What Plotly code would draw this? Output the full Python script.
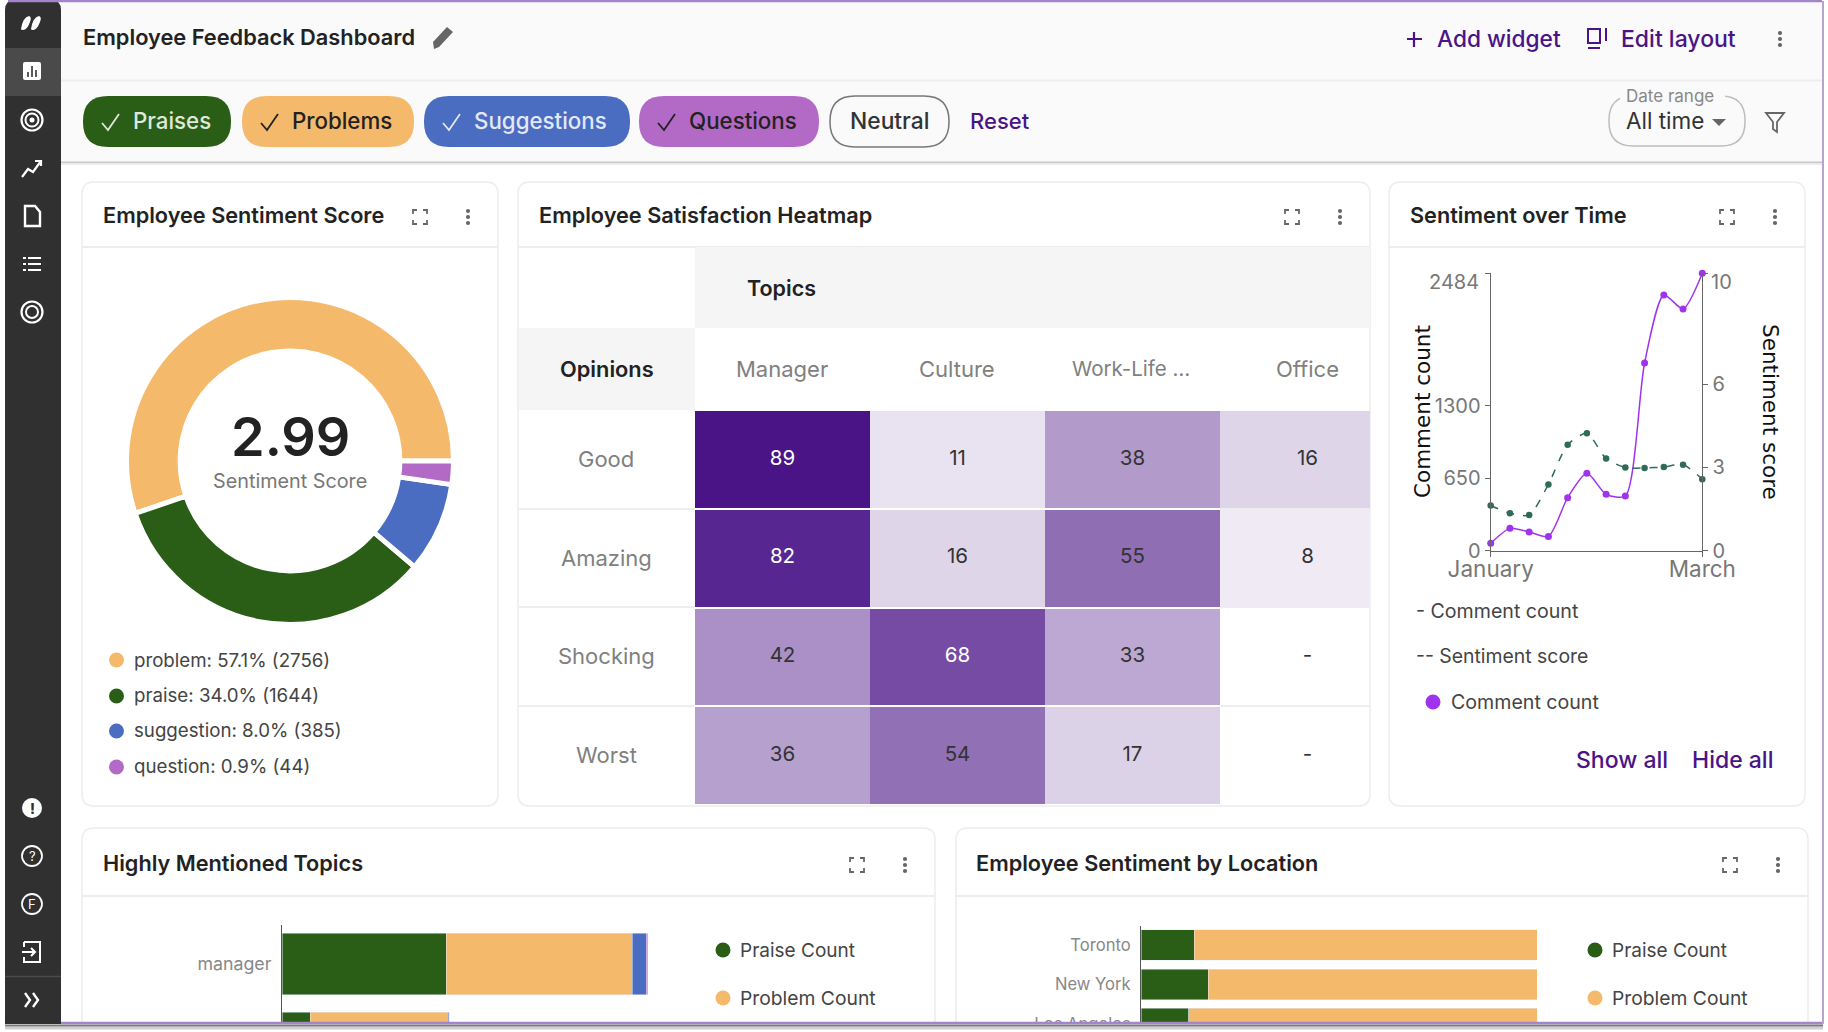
import plotly.graph_objects as go

W, H = 1828, 1032
FONT = "Inter"
PURPLE = "#4a1486"
GREEN, ORANGE, BLUE, VIOLET = "#2a5d16", "#f5b96c", "#4a6cc1", "#b36ac6"

# donut
slice_names = ["problem", "praise", "suggestion", "question"]
slice_share = [55.2, 33.6, 8.9, 2.3]
slice_percent = ["57.1%", "34.0%", "8.0%", "0.9%"]
slice_count = [2756, 1644, 385, 44]
sentiment_score = "2.99"

# heatmap
topics = ["Manager", "Culture", "Work-Life …", "Office"]
opinions = ["Good", "Amazing", "Shocking", "Worst"]
good = [89, 11, 38, 16]
amazing = [82, 16, 55, 8]
shocking = [42, 68, 33, None]
worst = [36, 54, 17, None]

# sentiment over time
points = [0, 1, 2, 3, 4, 5, 6, 7, 8, 9, 10, 11]
comment_count = [66, 200, 167, 128, 475, 693, 505, 490, 1681, 2290, 2165, 2484]
sentiment = [1.63, 1.35, 1.29, 2.39, 3.82, 4.23, 3.32, 3.00, 2.98, 3.02, 3.10, 2.58]
count_ticks = [0, 650, 1300, 2484]
score_ticks = [0, 3, 6, 10]
month_ticks = ["January", "March"]

# bars
topic_names = ["manager", "culture"]
topic_praise = [820, 140]
topic_problem = [932, 690]
topic_suggestion = [68, 6]
topic_question = [8, 1]
cities = ["Toronto", "New York", "Los Angeles"]
city_praise = [13.5, 17, 12]
city_problem = [86.5, 83, 88]

# toolbar
chip_names = ["Praises", "Problems", "Suggestions", "Questions"]
chip_left = [83, 242, 424, 639]
chip_right = [231, 414, 630, 819]
chip_colors = [GREEN, ORANGE, BLUE, VIOLET]
chip_text = ["#dfe8da", "#222222", "#e2e8f6", "#222222"]


def fx(x):
    return x / W


def fy(y):
    return 1 - y / H


shapes = []
notes = []


def path(d, cx=0, cy=0, fill=None, color=None, width=2, layer="below"):
    out = []
    is_x = True
    for t in d.split():
        if t.isalpha():
            out.append(t)
            is_x = True
        else:
            out.append(f"{fx(cx + float(t)):.5f}" if is_x else f"{fy(cy + float(t)):.5f}")
            is_x = not is_x
    shapes.append(dict(type="path", xref="paper", yref="paper", path=" ".join(out), layer=layer,
                       fillcolor=fill or "rgba(0,0,0,0)",
                       line=dict(color=color or "rgba(0,0,0,0)", width=width if color else 0)))


def box(x0, y0, x1, y1, fill=None, color=None, width=1.5, r=0, layer="below"):
    if r:
        d = (f"M {x0 + r} {y0} L {x1 - r} {y0} Q {x1} {y0} {x1} {y0 + r} L {x1} {y1 - r} Q {x1} {y1} {x1 - r} {y1} "
             f"L {x0 + r} {y1} Q {x0} {y1} {x0} {y1 - r} L {x0} {y0 + r} Q {x0} {y0} {x0 + r} {y0} Z")
    else:
        d = f"M {x0} {y0} L {x1} {y0} L {x1} {y1} L {x0} {y1} Z"
    path(d, fill=fill, color=color, width=width, layer=layer)


def circle(cx, cy, r, fill=None, color=None, width=2):
    shapes.append(dict(type="circle", xref="paper", yref="paper", layer="below",
                       x0=fx(cx - r), x1=fx(cx + r), y0=fy(cy + r), y1=fy(cy - r),
                       fillcolor=fill or "rgba(0,0,0,0)",
                       line=dict(color=color or "rgba(0,0,0,0)", width=width if color else 0)))


def label(x, y, text, size=18, color="#444444", anchor="left", weight=400, family=FONT, angle=0):
    notes.append(dict(x=fx(x), y=fy(y), xref="paper", yref="paper", text=text, showarrow=False,
                      xanchor=anchor, yanchor="middle", borderpad=0, textangle=angle,
                      font=dict(family=family, size=size, color=color, weight=weight)))


def dots(cx, cy, color="#666666"):
    for dy in (-6, 0, 6):
        circle(cx, cy + dy, 2.1, fill=color)


def expand(cx, cy):
    for sx in (-1, 1):
        for sy in (-1, 1):
            path(f"M {sx * 7} {sy * 3} L {sx * 7} {sy * 7} L {sx * 3} {sy * 7}", cx, cy, color="#666666", width=1.8)


def card(x0, y0, x1, y1, line_y, title, title_x, title_y, exp_x, dot_x):
    box(x0, y0, x1, y1, fill="#ffffff", color="#ededed", r=12)
    path(f"M {x0} {line_y} L {x1} {line_y}", color="#ededed", width=2)
    label(title_x, title_y, title, size=21.7, color="#222222", weight=600)
    expand(exp_x, title_y + 2)
    dots(dot_x, title_y + 2)


# window, header, toolbar
box(5, 0, 1823, 1030, fill="#ffffff")
box(61, 2, 1823, 80, fill="#fafafa")
box(61, 81, 1823, 162, fill="#fafafa")
path("M 61 80.5 L 1823 80.5", color="#eeeeee", width=2)
path("M 61 162.5 L 1823 162.5", color="#c9c9c9", width=2)
path("M 61 164 L 1823 164", color="#ececec", width=2)
label(82, 37, "Employee Feedback Dashboard", size=21.8, color="#222222", weight=600)
path("M -9 11 L -10 4 L 4 -11 L 10 -6 L -4 9 Z", 443, 38, fill="#666666")
path("M -7 0 L 8 0 M 0 -7 L 0 8", 1414, 39, color=PURPLE, width=2.2)
label(1435.5, 39, "Add widget", size=22.7, color=PURPLE, weight=500)
path("M -9 -9 L 3 -9 L 3 5 L -9 5 Z M -9 10 L 3 10 M 9 -10 L 9 3", 1597, 38, color=PURPLE, width=2)
label(1620, 39, "Edit layout", size=23, color=PURPLE, weight=500)
dots(1780, 39)

for name, x0, x1, col, txt in zip(chip_names, chip_left, chip_right, chip_colors, chip_text):
    box(x0, 96, x1, 147, fill=col, r=25)
    path("M -9 1 L -3 8 L 8 -8", x0 + 28, 122, color=txt, width=1.8)
    label(x0 + 48.5, 121, name, size=22.3, color=txt, weight=500)
box(830, 96, 949, 147, fill="#fafafa", color="#777777", r=25)
label(889.5, 121, "Neutral", size=22.8, color="#333333", anchor="center", weight=500)
label(969, 121, "Reset", size=22, color=PURPLE, weight=500)
box(1609, 96, 1745, 146, color="#bdbdbd", r=24)
box(1620, 90, 1725, 102, fill="#fafafa")
label(1625, 96, "Date range", size=17, color="#888888")
label(1625, 121, "All time", size=22.5, color="#333333")
path("M -7 -3 L 7 -3 L 0 4 Z", 1719, 122, fill="#666666")
path("M -9 -9 L 9 -9 L 2 0 L 2 10 L -2 7 L -2 0 Z", 1775, 122, color="#666666", width=1.8)

# sidebar
box(5, 0, 61, 1030, fill="#303030", r=10)
box(5, 48, 61, 96, fill="#4a4a4a")
path("M 5 976.5 L 61 976.5", color="#4a4a4a", width=1.5)
path("M -11 6 Q -9 -6 -3 -7 Q 0 -6 -2 -1 Q -5 7 -9 7 Q -11 7 -11 6 Z", 32, 23, fill="#ffffff")
path("M -1 6 Q 1 -6 7 -7 Q 10 -6 8 -1 Q 5 7 1 7 Q -1 7 -1 6 Z", 32, 23, fill="#ffffff")
box(23, 62, 41, 80, fill="#ffffff", r=2)
path("M 28 77 L 28 72 M 32 77 L 32 66 M 36 77 L 36 70", color="#4a4a4a", width=1.8)
circle(32, 120, 10.5, color="#ffffff", width=2.2)
circle(32, 120, 6.5, color="#ffffff", width=2)
circle(32, 120, 2.5, fill="#ffffff")
path("M -10 9 L -4 1 L 1 4 L 9 -7 M 3 -7 L 9 -7 L 9 -2", 32, 168, color="#ffffff", width=2.2)
path("M -7 -10 L 3 -10 L 8 -4 L 8 10 L -7 10 Z", 32, 216, color="#ffffff", width=2.4)
for dy in (-6, 0, 6):
    box(23, 264 + dy - 1, 26, 264 + dy + 1, fill="#ffffff")
    box(28, 264 + dy - 1, 41, 264 + dy + 1, fill="#ffffff")
circle(32, 312, 10.5, color="#ffffff", width=2.2)
circle(32, 312, 6, color="#ffffff", width=2)
circle(32, 808, 10, fill="#ffffff")
label(32, 808, "!", size=14, color="#303030", anchor="center", weight=800)
circle(32, 856, 10, color="#ffffff", width=1.8)
label(32, 856, "?", size=13, color="#ffffff", anchor="center")
circle(32, 904, 10, color="#ffffff", width=1.8)
label(32, 904, "F", size=13, color="#ffffff", anchor="center")
path("M -8 -10 L 8 -10 L 8 10 L -8 10 L -8 5 M -8 -5 L -8 -10 M -10 0 L 3 0 M -1 -4 L 3 0 L -1 4", 32, 952, color="#ffffff", width=2)
path("M -7 -7 L -2 0 L -7 7 M 1 -7 L 6 0 L 1 7", 32, 1000, color="#ffffff", width=2.4)

# cards
card(82, 182, 498, 806, 247, "Employee Sentiment Score", 102, 215, 420, 468)
card(518, 182, 1370, 806, 247, "Employee Satisfaction Heatmap", 538, 215, 1292, 1340)
card(1389, 182, 1805, 806, 247, "Sentiment over Time", 1409, 215, 1727, 1775)
card(82, 828, 935, 1060, 896, "Highly Mentioned Topics", 102, 863, 857, 905)
card(956, 828, 1808, 1060, 896, "Employee Sentiment by Location", 975, 863, 1730, 1778)

# donut text and legend
label(290, 436, sentiment_score, size=54, color="#222222", anchor="center", weight=600)
label(290, 481, "Sentiment Score", size=19.8, color="#777777", anchor="center")
for i, name in enumerate(slice_names):
    y = [660, 695.5, 730.5, 766][i]
    circle(116.5, [660, 696, 731, 767][i], 7.5, fill=[ORANGE, GREEN, BLUE, VIOLET][i])
    label(133, y, f"{name}: {slice_percent[i]} ({slice_count[i]})", size=18.7, color="#444444")

# heatmap headers
box(695, 247, 1370, 328, fill="#f5f5f5")
box(519, 328, 695, 410, fill="#f5f5f5")
label(781, 288, "Topics", size=21.5, color="#222222", anchor="center", weight=600)
label(607, 369, "Opinions", size=21.8, color="#222222", anchor="center", weight=600)
for i, name in enumerate(topics):
    label(782 + 175 * i - (1 if i == 2 else 0), 369, name, size=20.5 if i == 2 else 22, color="#808080", anchor="center")
for i, name in enumerate(opinions):
    label(606, 459 + 98.7 * i, name, size=22, color="#808080", anchor="center")
for y in (509, 607, 706):
    path(f"M 519 {y} L 695 {y}", color="#eeeeee", width=2)
    path(f"M 1220 {y} L 1370 {y}", color="#eeeeee", width=2)

# line chart labels and legend
label(1422, 412, "Comment count", size=21.5, color="#111111", anchor="center", family="DejaVu Sans", angle=-90)
label(1771, 412, "Sentiment score", size=21.5, color="#111111", anchor="center", family="DejaVu Sans", angle=90)
label(1480, 282, str(count_ticks[-1]), size=20, color="#777777", anchor="right")
label(1710, 282, str(score_ticks[-1]), size=20, color="#777777")
label(1415, 611, "- Comment count", size=19.6, color="#444444")
label(1415, 656, "-- Sentiment score", size=19.4, color="#444444")
circle(1433, 702, 7.5, fill="#a033ee")
label(1450, 702, "Comment count", size=19.6, color="#444444")
label(1575, 760, "Show all", size=23, color=PURPLE, weight=500)
label(1691, 760, "Hide all", size=23, color=PURPLE, weight=500)

# bar legends
for dot_x, text_x in ((723, 740), (1595, 1612)):
    circle(dot_x, 950, 7.5, fill=GREEN)
    label(text_x - 1.5, 950, "Praise Count", size=19, color="#444444")
    circle(dot_x, 998, 7.5, fill=ORANGE)
    label(text_x - 1.5, 998, "Problem Count", size=19.3, color="#444444")

# bottom edge of the window, over the clipped bars
box(0, 1023, W, H, fill="#ffffff", layer="above")
path("M 5 1028 L 1823 1028", color="#cfcfcf", width=3, layer="above")
path("M 5 1025.5 L 1823 1025.5", color="#7a7a7a", width=2, layer="above")
box(5, 1015, 61, 1024, fill="#303030", layer="above")
path("M 61 1023 L 1823 1023", color="#a585c9", width=2.5, layer="above")
path("M 8 1 L 1822 1", color="#a585c9", width=2.5, layer="above")
path("M 1823 1 L 1823 1024", color="#b7a3cf", width=2, layer="above")

fig = go.Figure()

r = 163.5
fig.add_trace(go.Pie(labels=slice_names, values=slice_share, hole=0.672, sort=False, direction="counterclockwise",
                     rotation=251.3, textinfo="none", showlegend=False,
                     marker=dict(colors=[ORANGE, GREEN, BLUE, VIOLET], line=dict(color="#ffffff", width=5)),
                     domain=dict(x=[fx(290 - r), fx(290 + r)], y=[fy(461 + r), fy(461 - r)])))

z = [good, amazing, shocking, worst]
fig.add_trace(go.Heatmap(z=z, x=topics, y=opinions, colorscale=[[0, "#ffffff"], [1, PURPLE]], zmin=0, zmax=89,
                         showscale=False, ygap=2, hoverongaps=False, xaxis="x", yaxis="y"))
cell_x, cell_y, cell_text, cell_color = [], [], [], []
for row, name in zip(z, opinions):
    for value, topic in zip(row, topics):
        cell_x.append(topic)
        cell_y.append(name)
        cell_text.append("-" if value is None else str(value))
        cell_color.append("#ffffff" if value is not None and value >= 60 else "#333333")
fig.add_trace(go.Scatter(x=cell_x, y=cell_y, mode="text", text=cell_text, textfont=dict(family=FONT, size=20.5, color=cell_color),
                         showlegend=False, hoverinfo="skip", xaxis="x", yaxis="y"))

fig.add_trace(go.Scatter(x=points, y=sentiment, mode="lines+markers", name="Sentiment score", showlegend=False,
                         line=dict(color="#2f6b58", width=1.5, shape="spline", smoothing=0.7, dash="8px,9px"),
                         marker=dict(size=6.5, color="#2f6b58"), cliponaxis=False, xaxis="x2", yaxis="y3"))
fig.add_trace(go.Scatter(x=points, y=comment_count, mode="lines+markers", name="Comment count", showlegend=False,
                         line=dict(color="#a033ee", width=1.5, shape="spline", smoothing=0.7),
                         marker=dict(size=7, color="#a033ee"), cliponaxis=False, xaxis="x2", yaxis="y2"))

for name, values, col in (("Praise Count", topic_praise, GREEN), ("Problem Count", topic_problem, ORANGE),
                          ("Suggestion Count", topic_suggestion, BLUE), ("Question Count", topic_question, VIOLET)):
    fig.add_trace(go.Bar(y=topic_names, x=values, name=name, orientation="h", marker_color=col, showlegend=False,
                         xaxis="x4", yaxis="y4"))
for name, values, col in (("Praise Count", city_praise, GREEN), ("Problem Count", city_problem, ORANGE)):
    fig.add_trace(go.Bar(y=cities, x=values, name=name, orientation="h", marker_color=col, showlegend=False,
                         xaxis="x5", yaxis="y5"))

tick_style = dict(showline=True, linecolor="#666666", linewidth=1.2, ticks="outside", ticklen=5, tickcolor="#666666",
                  showgrid=False, zeroline=False)
y_ticks = dict(family=FONT, size=20, color="#777777")
x_ticks = dict(family=FONT, size=22.5, color="#777777")

fig.update_layout(
    width=W, height=H, margin=dict(l=0, r=0, t=0, b=0, autoexpand=False), autosize=False,
    paper_bgcolor="#ffffff", plot_bgcolor="rgba(0,0,0,0)", barmode="stack", bargap=0.22,
    shapes=shapes, annotations=notes, hovermode=False,
    xaxis=dict(domain=[fx(695), fx(1370)], range=[-0.5, 3.357], visible=False, type="category"),
    yaxis=dict(domain=[fy(805), fy(410)], range=[3.5, -0.5], visible=False, type="category"),
    xaxis2=dict(domain=[fx(1490.7), fx(1702.3)], range=[points[0], points[-1]], tickvals=[points[0], points[-1]],
                ticktext=month_ticks, anchor="y2", tickfont=x_ticks, ticklabelstandoff=-7, **tick_style),
    # the top tick labels sit lower than their ticks, they are written as labels above
    yaxis2=dict(domain=[fy(550.7), fy(273.3)], range=[0, 2484], tickvals=count_ticks, anchor="x2", tickfont=y_ticks,
                ticktext=[str(v) for v in count_ticks[:-1]] + [""], **tick_style),
    yaxis3=dict(domain=[fy(550.7), fy(273.3)], range=[0, 10], tickvals=score_ticks, anchor="x2", overlaying="y2", side="right",
                ticktext=[str(v) for v in score_ticks[:-1]] + [""], tickfont=y_ticks, **tick_style),
    xaxis4=dict(domain=[fx(282), fx(660)], range=[0, 1890], visible=False, anchor="y4"),
    yaxis4=dict(domain=[0, fy(924.5)], range=[0.86, -0.5], anchor="x4", showline=True, linecolor="#555555", linewidth=1,
                ticks="", ticklabelstandoff=6, tickfont=dict(family=FONT, size=17.8, color="#888888")),
    xaxis5=dict(domain=[fx(1141), fx(1537)], range=[0, 100], visible=False, anchor="y5"),
    yaxis5=dict(domain=[0, fy(925.5)], range=[2.21, -0.5], anchor="x5", showline=True, linecolor="#555555", linewidth=1,
                ticks="", ticklabelstandoff=6, tickfont=dict(family=FONT, size=16.6, color="#888888")),
)

fig.write_html("out.html", config=dict(displayModeBar=False),
               post_script="document.body.style.margin='0';document.body.style.overflow='hidden';")
